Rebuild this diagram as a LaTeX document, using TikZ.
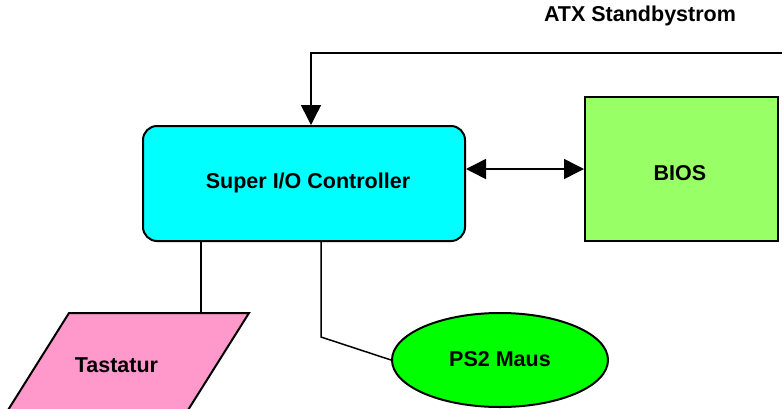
\documentclass[tikz,border=0pt]{standalone}
\usepackage{fontspec}
\setmainfont{Liberation Sans}
\usetikzlibrary{arrows.meta,shapes.geometric}
\definecolor{cyanbox}{HTML}{00FFFF}
\definecolor{biosgreen}{HTML}{99FF66}
\definecolor{tastpink}{HTML}{FF99CC}
\definecolor{mausgreen}{HTML}{00FF00}
\tikzset{
  lbl/.style={font=\fontsize{21.5}{25}\selectfont\bfseries, inner sep=0pt},
  boxline/.style={draw=black, line width=2pt},
  conn/.style={draw=black, line width=1.5pt},
  bigtip/.style={-{Triangle[length=20pt,width=20pt]}},
  bothtip/.style={{Triangle[length=20pt,width=20pt]}-{Triangle[length=20pt,width=20pt]}}
}
\begin{document}
\begin{tikzpicture}[x=1pt,y=-1pt]
\useasboundingbox (0,0) rectangle (782,408);
\clip (0,0) rectangle (782,408);
% Super I/O
\node[boxline, fill=cyanbox, rounded corners=14pt, minimum width=322pt, minimum height=115pt, inner sep=0pt] (super) at (304,183.5) {};
\node[lbl] (supertxt) at (308,183) {Super I/O Controller};
% BIOS
\node[boxline, fill=biosgreen, minimum width=193pt, minimum height=144pt, inner sep=0pt] (bios) at (681.5,169) {};
\node[lbl] (biostxt) at (680,173) {BIOS};
% Tastatur parallelogram
\coordinate (tA) at (69,313);
\coordinate (tB) at (249,313);
\coordinate (tC) at (173.6,433);
\coordinate (tD) at (-6.4,433);
\draw[boxline, fill=tastpink] (tA) -- (tB) -- (tC) -- (tD) -- cycle;
\node[lbl] (tast) at (116.5,365) {Tastatur};
% PS2 Maus
\node[boxline, ellipse, fill=mausgreen, minimum width=216pt, minimum height=94pt, inner sep=0pt] (maus) at (500,360) {};
\node[lbl] (maustxt) at (500,359) {PS2 Maus};
% ATX label
\node[lbl] (atxtxt) at (640,16) {ATX Standbystrom};
% connectors
\coordinate (atx) at (784,53);
\coordinate (atxbend) at (311,53);
\draw[conn, bigtip] (atx) -- (atxbend) -- (atxbend |- super.north);
\draw[conn, bothtip] (super.east |- 0,169) -- (bios.west |- 0,169);
\coordinate (tk) at (201,313);
\draw[conn] (super.south -| tk) -- (tk);
\coordinate (mbend) at (321,337);
\draw[conn] (super.south -| mbend) -- (mbend) -- (maus.west);
\end{tikzpicture}
\end{document}
